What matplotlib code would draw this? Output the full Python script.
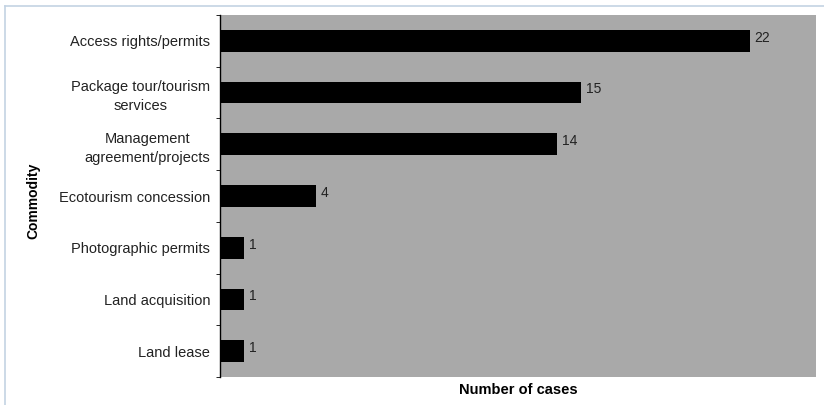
import matplotlib
matplotlib.use("Agg")
import matplotlib.pyplot as plt
from matplotlib.lines import Line2D
import numpy as np

plt.rcParams['font.family'] = ['Liberation Sans', 'DejaVu Sans']

categories = [
    "Access rights/permits",
    "Package tour/tourism\nservices",
    "Management\nagreement/projects",
    "Ecotourism concession",
    "Photographic permits",
    "Land acquisition",
    "Land lease",
]
cases = [22, 15, 14, 4, 1, 1, 1]

fig = plt.figure(figsize=(8.24, 4.05), dpi=100)
ax = fig.add_axes([0.267, 0.069, 0.723, 0.894])
ax.set_facecolor('#a9a9a9')

y = np.arange(len(categories))
ax.barh(y, cases, height=0.42, color='black')
ax.set_xlim(0, 24.75)
ax.set_ylim(len(categories) - 0.5, -0.5)

for yi, v in zip(y, cases):
    ax.text(v + 0.2, yi - 0.06, str(v), va='center', ha='left',
            fontsize=10, color='#222222')

ax.set_yticks(y)
ax.set_yticklabels(categories, fontsize=10.5, multialignment='center',
                   color='#222222', linespacing=1.45)
ax.tick_params(axis='y', which='major', length=0, pad=7)
ax.set_yticks(np.arange(-0.5, len(categories), 1.0), minor=True)
ax.tick_params(axis='y', which='minor', length=3, direction='out')
ax.set_xticks([])

for side in ['top', 'right', 'bottom']:
    ax.spines[side].set_visible(False)
ax.spines['left'].set_color('black')
ax.spines['left'].set_linewidth(1.0)

ax.set_xlabel("Number of cases", fontsize=10.5, fontweight='bold', labelpad=4)
fig.text(0.041, 0.504, "Commodity", rotation=90, fontsize=10,
         fontweight='bold', ha='center', va='center')

# thin light-blue frame lines along the top and left
fig.add_artist(Line2D([0.006, 1.0], [0.986, 0.986], color='#c3d3e3', lw=1.2))
fig.add_artist(Line2D([0.006, 0.006], [0.0, 0.986], color='#c3d3e3', lw=1.2))

fig.savefig("out.png", dpi=100)
